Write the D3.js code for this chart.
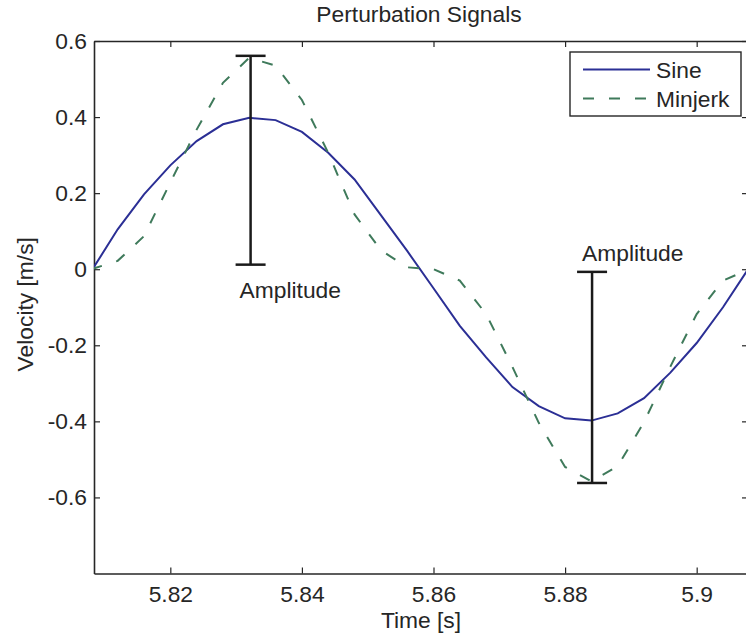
<!DOCTYPE html>
<html lang="en">
<head>
    <meta charset="UTF-8">
    <title>Perturbation Signals</title>
    <script src="https://d3js.org/d3.v7.min.js"></script>
    <style>
        body { margin: 0; background: #fff; }
        text { font-family: "Liberation Sans", Arial, sans-serif; fill: #262626; }
    </style>
</head>
<body>
    <div class="chart"></div>
    <script>
        // samples (s), 4 ms apart
        const time = [5.808, 5.812, 5.816, 5.820, 5.824, 5.828, 5.832, 5.836, 5.840, 5.844, 5.848, 5.852, 5.856,
                      5.860, 5.864, 5.868, 5.872, 5.876, 5.880, 5.884, 5.888, 5.892, 5.896, 5.900, 5.904, 5.908];
        const sine = [-0.005, 0.105, 0.197, 0.273, 0.337, 0.381, 0.398, 0.392, 0.361, 0.306, 0.236, 0.142, 0.048,
                      -0.050, -0.149, -0.232, -0.310, -0.360, -0.392, -0.398, -0.379, -0.339, -0.272, -0.194, -0.100, 0.005];
        const minjerk = [0.0, 0.022, 0.087, 0.228, 0.367, 0.490, 0.556, 0.535, 0.445, 0.306, 0.144, 0.050, 0.005,
                         0.0, -0.030, -0.118, -0.257, -0.404, -0.520, -0.558, -0.518, -0.402, -0.256, -0.118, -0.030, 0.0];
        // amplitude markers: x, low, high
        const ampTime = [5.8322, 5.8841];
        const ampLow = [0.012, -0.562];
        const ampHigh = [0.561, -0.007];
        const xTicks = [5.82, 5.84, 5.86, 5.88, 5.9];
        const yTicks = [0.6, 0.4, 0.2, 0, -0.2, -0.4, -0.6];

        function drawChart() {
            let w = 746, h = 639,
                margin = { top: 41, right: -2, bottom: 65.5, left: 94 };

            let svg = d3.select(".chart").append("svg").attr("width", w).attr("height", h);

            const x = d3.scaleLinear().domain([5.8084, 5.9078]).range([margin.left, w - margin.right]);
            const y = d3.scaleLinear().domain([-0.8, 0.6]).range([h - margin.bottom, margin.top]);

            svg.append("clipPath").attr("id", "plotClip")
                .append("rect")
                .attr("x", margin.left).attr("y", margin.top)
                .attr("width", w - margin.right - margin.left)
                .attr("height", h - margin.bottom - margin.top);

            // axes - matlab style, ticks pointing in
            const fontSize = 22.8;
            const dash = "11,15";
            const styleAxis = g => {
                g.selectAll("path").attr("stroke", "#262626").attr("stroke-width", 1.6);
                g.selectAll("line").attr("stroke", "#262626").attr("stroke-width", 1.2);
                g.selectAll("text").attr("font-size", fontSize).attr("fill", "#262626")
                    .attr("font-family", "Liberation Sans, Arial, sans-serif");
            };

            svg.append("g").attr("transform", `translate(0,${h - margin.bottom})`)
                .call(d3.axisBottom(x).tickValues(xTicks).tickFormat(d3.format("")).tickSizeInner(-6).tickSizeOuter(0).tickPadding(12))
                .call(styleAxis);
            svg.append("g").attr("transform", `translate(0,${margin.top})`)
                .call(d3.axisTop(x).tickValues(xTicks).tickFormat("").tickSizeInner(-6).tickSizeOuter(0))
                .call(styleAxis);
            svg.append("g").attr("transform", `translate(${margin.left},0)`)
                .call(d3.axisLeft(y).tickValues(yTicks).tickFormat(d => d === 0 ? "0" : d3.format(".1f")(d).replace("−", "-"))
                    .tickSizeInner(-6).tickSizeOuter(0).tickPadding(7))
                .call(styleAxis);
            svg.append("g").attr("transform", `translate(${w - margin.right},0)`)
                .call(d3.axisRight(y).tickValues(yTicks).tickFormat("").tickSizeInner(-6).tickSizeOuter(0))
                .call(styleAxis);

            // lines
            const line = d3.line().x((d, i) => x(time[i])).y(d => y(d));
            const plot = svg.append("g").attr("clip-path", "url(#plotClip)");
            plot.append("path").datum(sine)
                .attr("d", line).attr("fill", "none")
                .attr("stroke", "#2b2f95").attr("stroke-width", 2);
            plot.append("path").datum(minjerk)
                .attr("d", line).attr("fill", "none")
                .attr("stroke", "#3f7a5b").attr("stroke-width", 2)
                .attr("stroke-dasharray", dash);

            // amplitude bars
            const cap = 15;
            ampTime.forEach((t, i) => {
                const g = svg.append("g").attr("stroke", "#1a1a1a").attr("stroke-width", 2.5);
                g.append("line").attr("x1", x(t)).attr("x2", x(t)).attr("y1", y(ampLow[i])).attr("y2", y(ampHigh[i]));
                g.append("line").attr("x1", x(t) - cap).attr("x2", x(t) + cap).attr("y1", y(ampLow[i])).attr("y2", y(ampLow[i]));
                g.append("line").attr("x1", x(t) - cap).attr("x2", x(t) + cap).attr("y1", y(ampHigh[i])).attr("y2", y(ampHigh[i]));
            });
            svg.append("text").attr("x", x(ampTime[0]) - 11).attr("y", y(ampLow[0]) + 33)
                .attr("font-size", fontSize).text("Amplitude");
            svg.append("text").attr("x", x(ampTime[1]) - 10).attr("y", y(ampHigh[1]) - 11)
                .attr("font-size", fontSize).text("Amplitude");

            // titles
            svg.append("text").attr("x", (margin.left + w - margin.right) / 2 - 2).attr("y", 22)
                .attr("text-anchor", "middle").attr("font-size", fontSize).text("Perturbation Signals");
            svg.append("text").attr("x", (margin.left + w - margin.right) / 2).attr("y", 628)
                .attr("text-anchor", "middle").attr("font-size", fontSize).text("Time [s]");
            svg.append("text").attr("transform", `translate(33,${(margin.top + h - margin.bottom) / 2 - 3}) rotate(-90)`)
                .attr("text-anchor", "middle").attr("font-size", fontSize).text("Velocity [m/s]");

            // legend
            const lg = svg.append("g").attr("transform", "translate(570,52)");
            lg.append("rect").attr("width", 171).attr("height", 64)
                .attr("fill", "#fff").attr("stroke", "#262626").attr("stroke-width", 1.4);
            const items = [["Sine", "#2b2f95", null], ["Minjerk", "#3f7a5b", dash]];
            items.forEach((it, i) => {
                lg.append("line").attr("x1", 13).attr("x2", 80).attr("y1", 17.5 + i * 29).attr("y2", 17.5 + i * 29)
                    .attr("stroke", it[1]).attr("stroke-width", 2).attr("stroke-dasharray", it[2]);
                lg.append("text").attr("x", 86).attr("y", 25.5 + i * 29).attr("font-size", fontSize).text(it[0]);
            });
        }

        drawChart();
    </script>
</body>
</html>
